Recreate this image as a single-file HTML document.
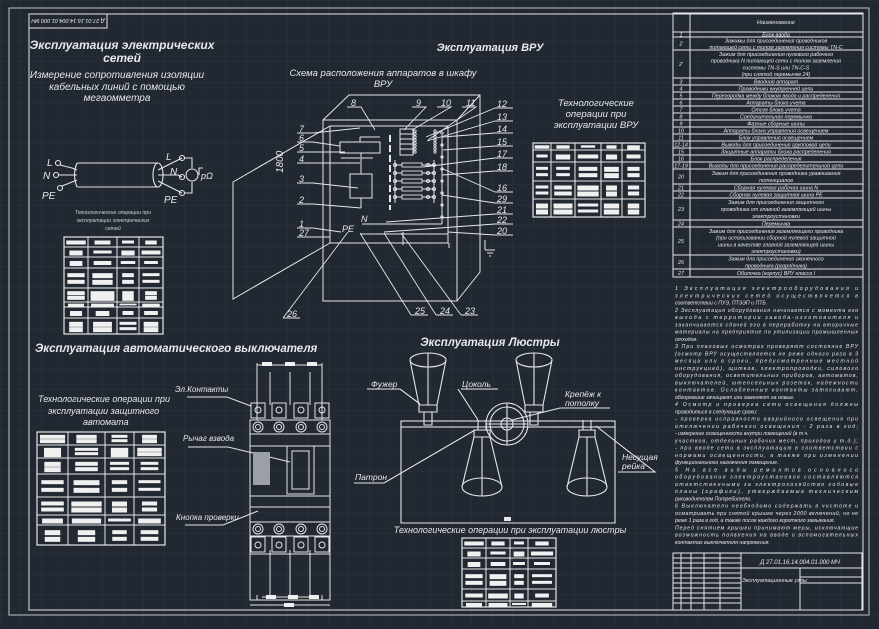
<!DOCTYPE html>
<html><head><meta charset="utf-8">
<style>
html,body{margin:0;padding:0;background:#222831;}
svg{display:block}
text{font-family:"Liberation Sans","DejaVu Sans",sans-serif;fill:#e6e8ea;}
.t{font-style:italic;font-weight:bold;}
.i{font-style:italic;}
.s{font-size:5.2px;font-style:italic;fill:#cfd3d8;}
</style></head><body>
<svg id="sv" width="879" height="629" viewBox="0 0 879 629" xmlns="http://www.w3.org/2000/svg">
<defs>
<pattern id="g" width="20.5" height="20.5" patternUnits="userSpaceOnUse">
<path d="M0 0H20.5M0 0V20.5" stroke="#2d3540" stroke-width="1" fill="none"/>
</pattern>
</defs>
<rect width="879" height="629" fill="#222831"/>
<rect width="879" height="629" fill="url(#g)"/>
<g fill="none" stroke="#e4e6e8" stroke-width="1">
<rect x="9" y="8" width="860" height="607" stroke="#bfc3c7"/>
<rect x="29" y="14" width="834" height="596"/>
<rect x="29" y="14" width="78" height="14"/>
</g>
<text transform="translate(68,21) rotate(180)" font-size="5.5" text-anchor="middle" class="i" dy="2">Д 27.01.16.14.004.01.000 МЧ</text>

<text x="122" y="49" class="t" font-size="12" text-anchor="middle">Эксплуатация электрических</text>
<text x="122" y="62" class="t" font-size="12" text-anchor="middle">сетей</text>
<text x="117" y="78" class="i" font-size="10" text-anchor="middle">Измерение сопротивления изоляции</text>
<text x="117" y="90" class="i" font-size="10" text-anchor="middle">кабельных линий с помощью</text>
<text x="117" y="101" class="i" font-size="10" text-anchor="middle">мегаомметра</text>
<g fill="none" stroke="#e4e6e8" stroke-width="1.1">
<path d="M77 163 H158 M77 187 H158"/>
<path d="M77 163 Q72 175 77 187"/>
<ellipse cx="158" cy="175" rx="5" ry="12"/>
<circle cx="58" cy="163" r="2.5"/><circle cx="56" cy="175" r="2.5"/><circle cx="60" cy="188" r="2.5"/>
<path d="M60 165 L72 168 L77 170 M59 175 H77 M62 186 L72 182 L77 180"/>
<path d="M158 170 L182 158 M158 175 L178 175 L182 177 M158 181 L182 193"/>
<circle cx="182" cy="158" r="2.5"/><circle cx="182" cy="177" r="2.5"/><circle cx="182" cy="193" r="2.5"/>
<path d="M184 158 H192 V168 M184 193 H192 V182"/>
<circle cx="192" cy="175" r="6"/>
<path d="M199 175 V168 H203"/>
</g>
<text x="47" y="166" class="i" font-size="10">L</text>
<text x="43" y="179" class="i" font-size="10">N</text>
<text x="42" y="199" class="i" font-size="10">PE</text>
<text x="166" y="160" class="i" font-size="10">L</text>
<text x="170" y="175" class="i" font-size="10">N</text>
<text x="164" y="203" class="i" font-size="10">PE</text>
<text x="201" y="179" class="i" font-size="9">pΩ</text>
<text x="113" y="214" class="s" font-size="5.5" text-anchor="middle">Технологические операции при</text>
<text x="113" y="222" class="s" font-size="5.5" text-anchor="middle">эксплуатации электрических</text>
<text x="113" y="230" class="s" font-size="5.5" text-anchor="middle">сетей</text>

<text x="490" y="51" class="t" font-size="11" text-anchor="middle">Эксплуатация ВРУ</text>
<text x="383" y="76" class="i" font-size="9.5" text-anchor="middle">Схема расположения аппаратов в шкафу</text>
<text x="383" y="87" class="i" font-size="9.5" text-anchor="middle">ВРУ</text>
<text x="596" y="106" class="i" font-size="9.5" text-anchor="middle">Технологические</text>
<text x="596" y="117" class="i" font-size="9.5" text-anchor="middle">операции при</text>
<text x="596" y="128" class="i" font-size="9.5" text-anchor="middle">эксплуатации ВРУ</text>
<g fill="none" stroke="#e4e6e8" stroke-width="1">
<rect x="323" y="120" width="134" height="181"/>
<path d="M323 120 L349 95 H480 V272 L457 301 M457 120 L480 95"/>
<rect x="330" y="126" width="118" height="117"/>
<path d="M330 126 L233 182 V299 L330 243"/>
<rect x="340" y="142" width="40" height="11"/>
<rect x="350" y="174" width="22" height="24"/>
<path d="M360 137 H380 M360 137 V142 M361 153 V174 M361 198 V208 M341 158 H360 M361 158 H373"/>
<path d="M390 135 V210" stroke-dasharray="7 3" stroke-width="2"/>
<rect x="400" y="129" width="13" height="26"/>
<path d="M400 134 H413 M400 139 H413 M400 144 H413 M400 149 H413"/>
<path d="M395 160 V203 M434 160 V203"/>
<path d="M442 135 V224 M448 133 V237"/>
<path d="M362 224 H442 M360 234 H448 M403 232 V245"/>
<path d="M449 243 V248 M485 250 H495 M487 253 H493 M489 256 H491 M485 240 V250"/>
</g>
<g fill="none" stroke="#e4e6e8" stroke-width="0.9" id="vru"></g>
<text transform="translate(283,173) rotate(-90)" class="i" font-size="10">1800</text>

<g id="tables"></g>

<text x="35" y="352" class="t" font-size="11.5">Эксплуатация автоматического выключателя</text>
<text x="38" y="402" class="i" font-size="9">Технологические операции при</text>
<text x="48" y="414" class="i" font-size="9">эксплуатации защитного</text>
<text x="83" y="425" class="i" font-size="9">автомата</text>
<text x="175" y="392" class="i" font-size="8">Эл.Контакты</text>
<text x="183" y="441" class="i" font-size="8">Рычаг взвода</text>
<text x="176" y="520" class="i" font-size="8">Кнопка проверки</text>
<g fill="none" stroke="#e4e6e8" stroke-width="1">
<path d="M187 397 H227 L251 406 M188 447 H228 L290 462 M185 525 H223 L258 511"/>
<rect x="250" y="420" width="80" height="134"/>
<path d="M250 434 H330 M250 446 H330 M250 496 H330 M250 507 H330 M250 522 H330 M250 536 H330 M250 554 V600 H330 V554"/>
<rect x="287" y="446" width="27" height="48"/><rect x="292" y="451" width="17" height="38"/>
<rect x="253" y="452" width="17" height="33" fill="#9aa0a6" stroke="none"/>
<path d="M257 363 V420 M322 363 V420 M257 595 V600 M322 595 V600 M257 365 H322 M262 597 H318 M250 605 H330"/>
<path d="M270 372 V405 M290 372 V405 M310 372 V405 M270 550 V595 M290 550 V595 M310 550 V595"/>
</g>
<g id="brk" fill="none" stroke="#e4e6e8" stroke-width="1"></g>

<text x="490" y="346" class="t" font-size="11.5" text-anchor="middle">Эксплуатация Люстры</text>
<g fill="none" stroke="#e4e6e8" stroke-width="1.1">
<rect x="401" y="421" width="214" height="6"/>
<path d="M401 427 V523 H615 V427"/>
<circle cx="507" cy="424" r="21"/><circle cx="507" cy="424" r="17"/><circle cx="507" cy="424" r="6"/>
<path d="M486 424 H528 M507 403 V445"/>
<path d="M410 360 L419 405 H437 L446 360"/><ellipse cx="428" cy="360" rx="18" ry="7"/><path d="M428 353 V405"/>
<path d="M419 405 h18 v7 h-18z M424 412 V425 H432 V412"/>
<path d="M516 360 L525 405 H543 L552 360"/><ellipse cx="534" cy="360" rx="18" ry="7"/><path d="M534 353 V405"/>
<path d="M525 405 h18 v7 h-18z M530 412 V425 H538 V412"/>
<path d="M478 420 V430 H486 V420 M474 430 h16 v7 h-16z M474 437 L462 487 M490 437 L502 487"/><ellipse cx="482" cy="487" rx="20" ry="9"/><path d="M482 437 V496"/>
<path d="M583 420 V430 H591 V420 M579 430 h16 v7 h-16z M579 437 L567 487 M595 437 L607 487"/><ellipse cx="587" cy="487" rx="20" ry="9"/><path d="M587 437 V496"/>
<path d="M367 389 H400 L420 404 M461 389 H498 M458 389 L478 420 M560 408 H610 M560 408 L512 420 M618 472 H655 L596 426 M354 483 H384 L475 430"/>
</g>
<text x="371" y="387" class="i" font-size="8.5">Фужер</text>
<text x="462" y="387" class="i" font-size="8.5">Цоколь</text>
<text x="565" y="397" class="i" font-size="8.5">Крепёж к</text>
<text x="565" y="406" class="i" font-size="8.5">потолку</text>
<text x="622" y="460" class="i" font-size="8.5">Несущая</text>
<text x="622" y="469" class="i" font-size="8.5">рейка</text>
<text x="355" y="480" class="i" font-size="8.5">Патрон</text>
<rect x="504" y="517" width="7" height="4" fill="#e4e6e8"/>
<text x="510" y="533" class="i" font-size="9" text-anchor="middle">Технологические операции при эксплуатации люстры</text>

<g fill="none" stroke="#e4e6e8" stroke-width="1">
<rect x="673" y="13" width="190" height="264"/>
<path d="M690 13 V277"/>
<path d="M673 32 H863 M673 37 H863 M673 50 H863 M673 78 H863 M673 85 H863 M673 92 H863 M673 99 H863 M673 106 H863 M673 113 H863 M673 120 H863 M673 127 H863 M673 134 H863 M673 141 H863 M673 148 H863 M673 155 H863 M673 162 H863 M673 169 H863 M673 184 H863 M673 191 H863 M673 198 H863 M673 220 H863 M673 227 H863 M673 255 H863 M673 269 H863"/>
</g>
<g font-size="5.3" class="i" id="rt">
<text x="776" y="24" text-anchor="middle" font-size="5.5">Наименование</text>
</g>

<g class="s" id="para"></g>

<g fill="none" stroke="#e4e6e8" stroke-width="1">
<rect x="673" y="553" width="189" height="57"/>
<path d="M741 553 V610 M741 568 H862 M800 568 V610 M800 577 H862 M800 583 H862 M673 558 H741 M673 563 H741 M673 568 H741 M673 573 H741 M673 578 H741 M673 583 H741 M673 588 H741 M673 593 H741 M673 598 H741 M673 603 H741 M681 553 V610 M691 553 V610 M704 553 V610 M720 553 V610"/>
</g>
<text x="800" y="564" class="i" font-size="6" text-anchor="middle">Д 27.01.16.14.004.01.000 МЧ</text>
<text x="742" y="582" class="i" font-size="5.5">Эксплуатационные узлы</text>
</svg>
<script>
var NS="http://www.w3.org/2000/svg",sv=document.getElementById('sv');
function el(p,t,a){var e=document.createElementNS(NS,t);for(var k in a)e.setAttribute(k,a[k]);p.appendChild(e);return e;}
var tg=document.getElementById('tables');
function table(cols,rows){
 var g=el(tg,'g',{});
 el(g,'rect',{x:cols[0],y:rows[0],width:cols[cols.length-1]-cols[0],height:rows[rows.length-1]-rows[0],fill:'none',stroke:'#e4e6e8','stroke-width':1.2});
 cols.slice(1,-1).forEach(function(c){el(g,'line',{x1:c,x2:c,y1:rows[0],y2:rows[rows.length-1],stroke:'#e4e6e8'});});
 rows.slice(1,-1).forEach(function(r){el(g,'line',{y1:r,y2:r,x1:cols[0],x2:cols[cols.length-1],stroke:'#e4e6e8'});});
 var s=7;
 for(var i=0;i<rows.length-1;i++)for(var j=0;j<cols.length-1;j++){
  s=(s*37+11)%97;
  var w=(cols[j+1]-cols[j])*(0.45+(s%40)/100),h=Math.min(3,(rows[i+1]-rows[i])*0.35);
  var cx=(cols[j]+cols[j+1])/2,cy=(rows[i]+rows[i+1])/2;
  var n=(rows[i+1]-rows[i])>12?2:1;
  for(var k=0;k<n;k++){var yy=n==1?cy-h/2:rows[i]+(rows[i+1]-rows[i])*(k+1)/(n+1)-h/2;
   el(g,'rect',{x:cx-w/2,y:yy,width:w,height:h+ (s%3),fill:'#f0f0f0'});}
 }
}
table([64,88,117,139,163],[237,247,257,268,288,302,307,318,334]);
table([37,68,105,134,165],[432,445,458,474,497,515,525,545]);
table([462,486,510,528,556],[538,548,558,569,589,601,607]);
table([533,551,575,601,622,645],[143,150,162,181,199,217]);
var v=document.getElementById('vru');
function L(d){el(v,'path',{d:d});}
[[7,133,360,128],[6,142,340,146],[5,152,345,152],[4,163,360,163],[3,183,358,188],[2,204,361,208],[1,228,341,232],[27,237,330,237]].forEach(function(a){
 var y=a[1];el(sv,'text',{x:299,y:y-1,'class':'i','font-size':9}).textContent=a[0];L('M297 '+y+' H313 L'+a[2]+' '+a[3]);});
[[8,355,107,375,130],[9,420,107,404,130],[10,445,107,412,130],[11,470,107,428,140]].forEach(function(a){
 el(sv,'text',{x:a[1]-4,y:a[2]-1,'class':'i','font-size':9}).textContent=a[0];L('M'+(a[1]-8)+' '+a[2]+' H'+(a[1]+6)+' L'+a[3]+' '+a[4]);});
var rl=[[12,108,426,137],[13,121,427,141],[14,133,443,137],[15,146,443,150],[17,158,423,167],[18,171,442,175],[16,192,441,168],[29,203,442,195],[21,214,386,222],[22,224,384,232],[20,235,448,232]];
rl.forEach(function(a){el(sv,'text',{x:497,y:a[1]-1,'class':'i','font-size':9}).textContent=a[0];L('M495 '+a[1]+' H513 M495 '+a[1]+' L'+a[2]+' '+a[3]);});
[[26,292,318,348,232],[25,420,315,360,233],[24,445,315,384,233],[23,470,315,401,233]].forEach(function(a){
 el(sv,'text',{x:a[1]-5,y:a[2]-1,'class':'i','font-size':9}).textContent=a[0];L('M'+(a[1]-9)+' '+a[2]+' H'+(a[1]+8)+' M'+(a[1]-9)+' '+a[2]+' L'+a[3]+' '+a[4]);});
el(sv,'text',{x:361,y:222,'class':'i','font-size':9}).textContent='N';
el(sv,'text',{x:342,y:232,'class':'i','font-size':9}).textContent='PE';
for(var i=0;i<5;i++){var y=165+i*8;el(v,'rect',{x:402,y:y-2,width:20,height:4});L('M395 '+y+' H402 M422 '+y+' H434');
 el(v,'circle',{cx:395,cy:y,r:1.5});el(v,'circle',{cx:428,cy:y,r:1.5});el(v,'circle',{cx:434,cy:y,r:1.5});}
for(var i=0;i<8;i++){el(v,'circle',{cx:415,cy:131+i*3,r:1.2});el(v,'circle',{cx:435,cy:131+i*3,r:1.2});el(v,'circle',{cx:442,cy:133+i*12,r:1.2});}
var b=document.getElementById('brk');
[258,279,301,322].forEach(function(x){
 el(b,'rect',{x:x-7,y:403,width:14,height:15});el(b,'circle',{cx:x,cy:410,r:3});
 el(b,'circle',{cx:x,cy:427,r:5});el(b,'circle',{cx:x,cy:427,r:2.5});
 el(b,'circle',{cx:x,cy:529,r:5});el(b,'circle',{cx:x,cy:529,r:2.5});
 el(b,'rect',{x:x-7,y:537,width:14,height:15});el(b,'circle',{cx:x,cy:545,r:3});
});
[[262,362],[285,362],[307,362],[266,595],[288,595],[309,595],[284,603]].forEach(function(p){el(b,'rect',{x:p[0],y:p[1],width:10,height:4,fill:'#f0f0f0',stroke:'none'});});
var rt=document.getElementById('rt');
var rows=[["1","Блок ввода",37],["2","Зажимы для присоединения проводников|питающей сети с типом заземления системы TN-C",50],["2'","Зажим для присоединения нулевого рабочего|проводника N питающей сети с типом заземления|системы TN-S или TN-C-S|(при снятой перемычке 24)",78],["3","Вводной аппарат",85],["4","Проводники внутренней цепи",92],["5","Перегородка между блоком ввода и распределения",99],["6","Аппараты блока учета",106],["7","Отсек блока учета",113],["8","Соединительная перемычка",120],["9","Фазные сборные шины",127],["10","Аппараты блока управления освещением",134],["11","Блок управления освещением",141],["12-14","Выводы для присоединения групповой цепи",148],["15","Защитные аппараты блока распределения",155],["16","Блок распределения",162],["17-19","Выводы для присоединения распределительной цепи",169],["20","Зажим для присоединения проводника уравнивания|потенциалов",184],["21","Сборная нулевая рабочая шина N",191],["22","Сборная нулевая защитная шина PE",198],["23","Зажим для присоединения защитного|проводника от главной заземляющей шины|электроустановки",220],["24","Перемычка",227],["25","Зажим для присоединения заземляющего проводника|(при использовании сборной нулевой защитной|шины в качестве главной заземляющей шины|электроустановки)",255],["26","Зажим для присоединения оконечного|проводника (разрядника)",269],["27","Оболочка (корпус) ВРУ класса I",277]];
var prev=32;
rows.forEach(function(r){var ls=r[1].split('|'),h=r[2]-prev,lh=Math.min(6.8,h/ls.length);
 var t=el(rt,'text',{x:681,y:prev+h/2+2,'text-anchor':'middle'});t.textContent=r[0];
 ls.forEach(function(s,i){var t=el(rt,'text',{x:776,y:prev+h/2-(ls.length-1)*lh/2+i*lh+2,'text-anchor':'middle'});t.textContent=s;});
 prev=r[2];});
var P=document.getElementById('para');
var lines=["1  Эксплуатация   электрооборудования   и","электрических   сетей   осуществляется   в","соответствии с ПУЭ, ПТЭЭП и ПТБ.","   2 Эксплуатация оборудования начинается с момента его","выхода   с   территории   завода-изготовителя   и","заканчивается   сдачей его в переработку на вторичные","материалы на предприятие по утилизации промышленных","отходов.","   3 При плановых осмотрах проверяют состояние ВРУ","(осмотр ВРУ осуществляется не реже одного раза в 3","месяца   или   в   сроки,   предусмотренные   местной","инструкцией),   щитков,   электропроводки,   силового","оборудования,   осветительных   приборов,   автоматов,","выключателей,   штепсельных   розеток,  надежность","контактов.   Ослабленные   контакты   затягивают,","обгоревшие зачищают или заменяют на новые.","   4  Осмотр   и   проверка   сети   освещения   должны","проводиться в следующие сроки:","   - проверка исправности аварийного освещения при","отключении рабочего освещения - 2 раза в год;","   - измерение освещенности внутри помещений (в т.ч.","участков, отдельных рабочих мест, проходов и т.д.);","   - при вводе сети в эксплуатацию в соответствии с","нормами освещенности,   а   также   при   изменении","функционального назначения помещения.","   5  На   все   виды   ремонтов   основного","оборудования электроустановок   составляются","ответственными   за электрохозяйство   годовые","планы   (графики),   утверждаемые техническим","руководителем Потребителя.","   6  Выключатели  необходимо  содержать  в  чистоте  и","осматривать при снятой крышке через 2000 включений, но не","реже 1 раза в год, а также после каждого короткого замыкания.","Перед снятием крышки принимают меры, исключающие","возможность появления на вводе и вспомогательных","контактах выключателя напряжения."];
lines.forEach(function(s,i){var t=el(P,'text',{x:675,y:290+i*7.25,textLength:183,lengthAdjust:'spacing'});if(s.length<40||i==lines.length-1||s.slice(-1)=='.'||s.slice(-1)==':')t.removeAttribute('textLength');t.textContent=s;});
</script>
</body></html>
